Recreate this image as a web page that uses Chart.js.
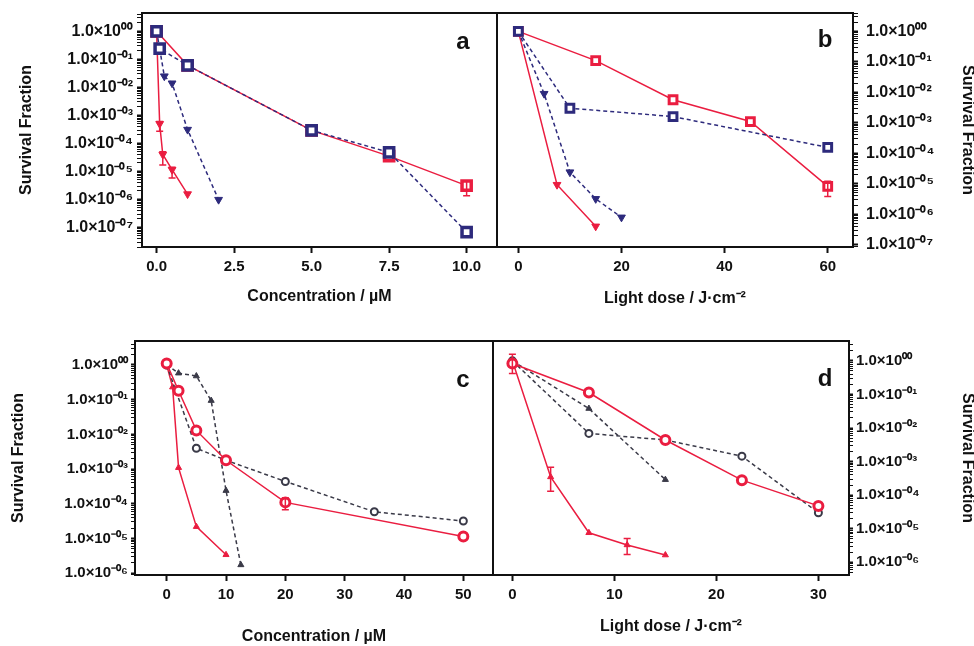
<!DOCTYPE html>
<html>
<head>
<meta charset="utf-8">
<script src="https://cdn.jsdelivr.net/npm/chart.js@4.4.1/dist/chart.umd.min.js"></script>
<style>
  body { margin: 0; background: #fff; }
  canvas { position: absolute; }
</style>
</head>
<body>
<canvas id="pa" width="497" height="320" style="left:0;top:0"></canvas>
<canvas id="pb" width="477" height="320" style="left:497px;top:0"></canvas>
<canvas id="pc" width="493" height="316" style="left:0;top:330px"></canvas>
<canvas id="pd" width="481" height="316" style="left:493px;top:330px"></canvas>
<script>
// ---- panel a : concentration (uM) ----
var aRedSqX = [0, 1, 5, 7.5, 10];
var aRedSqY = [1.0, 0.061, 2.9e-4, 3.5e-5, 3.1e-6];
var aNavySqX = [0, 0.1, 1, 5, 7.5, 10];
var aNavySqY = [1.0, 0.24, 0.061, 2.9e-4, 4.8e-5, 6.8e-8];
var aRedTriX = [0, 0.1, 0.2, 0.5, 1];
var aRedTriY = [1.0, 5e-4, 4e-5, 1.15e-5, 1.55e-6];
var aNavyTriX = [0.1, 0.25, 0.5, 1, 2];
var aNavyTriY = [0.24, 0.025, 0.014, 3.1e-4, 9.8e-7];
var aXTicks = [0, 2.5, 5, 7.5, 10];

// ---- panel b : light dose ----
var bRedSqX = [0, 15, 30, 45, 60];
var bRedSqY = [1.0, 0.11, 5.7e-3, 1.1e-3, 8.2e-6];
var bNavySqX = [0, 10, 30, 60];
var bNavySqY = [1.0, 3.0e-3, 1.6e-3, 1.56e-4];
var bNavyTriX = [0, 5, 10, 15, 20];
var bNavyTriY = [1.0, 9e-3, 2.4e-5, 3.2e-6, 7.9e-7];
var bRedTriX = [0, 7.5, 15];
var bRedTriY = [1.0, 9.3e-6, 4e-7];
var bXTicks = [0, 20, 40, 60];

// ---- panel c : concentration (uM) ----
var cRedCirX = [0, 2, 5, 10, 20, 50];
var cRedCirY = [1.1, 0.18, 0.013, 1.8e-3, 1.1e-4, 1.15e-5];
var cGrayCirX = [0, 5, 10, 20, 35, 50];
var cGrayCirY = [1.0, 4e-3, 1.8e-3, 4.4e-4, 5.9e-5, 3.2e-5];
var cRedTriX = [0, 1, 2, 5, 10];
var cRedTriY = [1.0, 0.23, 1.1e-3, 2.2e-5, 3.4e-6];
var cGrayTriX = [0, 2, 5, 7.5, 10, 12.5];
var cGrayTriY = [1.0, 0.58, 0.48, 0.094, 2.4e-4, 1.74e-6];
var cXTicks = [0, 10, 20, 30, 40, 50];

// ---- panel d : light dose ----
var dRedCirX = [0, 7.5, 15, 22.5, 30];
var dRedCirY = [0.83, 0.114, 4.4e-3, 2.8e-4, 4.8e-5];
var dGrayCirX = [0, 7.5, 15, 22.5, 30];
var dGrayCirY = [1.0, 6.9e-3, 4.4e-3, 1.45e-3, 3e-5];
var dGrayTriX = [0, 7.5, 15];
var dGrayTriY = [1.0, 0.038, 2.9e-4];
var dRedTriX = [0, 3.75, 7.5, 11.25, 15];
var dRedTriY = [1.0, 3.5e-4, 7.6e-6, 3.3e-6, 1.65e-6];
var dXTicks = [0, 10, 20, 30];

// error bars (low / high), null = none
var aRedSqLo = [null, null, null, null, 1.35e-6];
var aRedSqHi = [null, null, null, null, 4.5e-6];
var aRedTriLo = [null, 2.7e-4, 1.7e-5, 5.8e-6, null];
var aRedTriHi = [null, 6e-4, 5e-5, 1.4e-5, null];
var bRedSqLo = [null, null, null, null, 3.8e-6];
var bRedSqHi = [null, null, null, null, 1.2e-5];
var cRedCirLo = [null, null, null, null, 6.7e-5, null];
var cRedCirHi = [null, null, null, null, 1.5e-4, null];
var dRedTriLo = [0.42, 1.3e-4, null, 1.7e-6, null];
var dRedTriHi = [1.58, 6.8e-4, null, 5.1e-6, null];

var RED = '#ea1d40';
var NAVY = '#2d2a7c';
var GRAY = '#3a3a48';
var FONT = 'Liberation Sans, Arial, sans-serif';

function pts(xs, ys) {
  return xs.map(function(x, i) { return {x: x, y: ys[i]}; });
}

var SUP = {'0':'⁰','1':'¹','2':'²','3':'³','4':'⁴','5':'⁵','6':'⁶','7':'⁷','8':'⁸','9':'⁹','-':'⁻'};
function isDecade(v) {
  var e = Math.round(Math.log10(v));
  return Math.abs(v / Math.pow(10, e) - 1) < 1e-6;
}
function sciLabel(v) {
  if (!isDecade(v)) return '';
  var e = Math.round(Math.log10(v));
  var s = (e < 0 ? '-' : '') + String(Math.abs(e)).padStart(2, '0');
  return '1.0×10' + s.split('').map(function(c) { return SUP[c]; }).join('');
}

function line(xs, ys, color, dashed, marker, extra) {
  var d = {
    data: pts(xs, ys),
    borderColor: color,
    borderWidth: 1.5,
    borderDash: dashed ? [4, 3] : [],
    pointBorderColor: color,
    pointBackgroundColor: color,
    pointRadius: 4,
    pointBorderWidth: 1,
    pointStyle: 'triangle',
    pointRotation: 0,
    tension: 0
  };
  if (marker === 'sq') { d.pointStyle = 'rect'; d.pointBackgroundColor = '#fff'; d.pointBorderWidth = 3.5; d.pointRadius = 6.5; }
  if (marker === 'sqs') { d.pointStyle = 'rect'; d.pointBackgroundColor = '#fff'; d.pointBorderWidth = 3; d.pointRadius = 5.5; }
  if (marker === 'down') { d.pointRotation = 180; d.pointRadius = 4.5; }
  if (marker === 'up') { d.pointRadius = 3.5; }
  if (marker === 'cir') { d.pointStyle = 'circle'; d.pointBackgroundColor = '#fff'; d.pointBorderWidth = 3; d.pointRadius = 4.5; }
  if (marker === 'cirs') { d.pointStyle = 'circle'; d.pointBackgroundColor = '#fff'; d.pointBorderWidth = 2; d.pointRadius = 3.5; }
  for (var k in extra) d[k] = extra[k];
  return d;
}

function noPad(ax) {
  ax.paddingLeft = 0; ax.paddingRight = 0; ax.paddingTop = 0; ax.paddingBottom = 0;
}

var decoPlugin = {
  id: 'deco',
  afterDatasetsDraw: function(chart, args, opts) {
    var ctx = chart.ctx, xs = chart.scales.x, ys = chart.scales.y, a = chart.chartArea;
    ctx.save();
    chart.data.datasets.forEach(function(d) {
      if (!d.errLo) return;
      ctx.strokeStyle = d.borderColor;
      ctx.lineWidth = 1.5;
      d.data.forEach(function(p, i) {
        if (d.errLo[i] == null) return;
        var px = xs.getPixelForValue(p.x);
        var y1 = ys.getPixelForValue(d.errLo[i]), y2 = ys.getPixelForValue(d.errHi[i]);
        ctx.beginPath();
        ctx.moveTo(px, y1); ctx.lineTo(px, y2);
        ctx.moveTo(px - 3.5, y1); ctx.lineTo(px + 3.5, y1);
        ctx.moveTo(px - 3.5, y2); ctx.lineTo(px + 3.5, y2);
        ctx.stroke();
      });
    });
    ctx.strokeStyle = '#111';
    ctx.lineWidth = 2;
    ctx.strokeRect(a.left, a.top, a.right - a.left, a.bottom - a.top);
    ctx.fillStyle = '#111';
    ctx.font = 'bold 24px ' + FONT;
    ctx.textAlign = 'center';
    ctx.textBaseline = 'middle';
    ctx.fillText(opts.letter, a.right - opts.dx, a.top + opts.dy);
    ctx.restore();
  }
};

function makePanel(id, p) {
  new Chart(document.getElementById(id), {
    type: 'line',
    data: { datasets: p.datasets },
    plugins: [decoPlugin],
    options: {
      responsive: false,
      animation: false,
      layout: { autoPadding: false, padding: { top: p.padTop, left: 0, right: 0, bottom: 0 } },
      plugins: {
        legend: { display: false },
        tooltip: { enabled: false },
        deco: { letter: p.letter, dx: p.ldx, dy: p.ldy }
      },
      scales: {
        x: {
          type: 'linear',
          min: p.xMin, max: p.xMax,
          afterBuildTicks: function(ax) { ax.ticks = p.xTicks.map(function(v) { return {value: v}; }); },
          afterFit: function(ax) { ax.height = p.xH; noPad(ax); },
          border: { display: false },
          grid: { drawOnChartArea: false, drawTicks: true, tickLength: 6, tickColor: '#111', tickWidth: 2 },
          ticks: {
            autoSkip: false, maxRotation: 0, padding: 5, color: '#111',
            font: { family: FONT, size: 15, weight: 'bold' },
            callback: function(v) { return p.xFix ? Number(v).toFixed(p.xFix) : String(v); }
          },
          title: {
            display: true, text: p.xTitle, color: '#111',
            font: { family: FONT, size: 16, weight: 'bold' },
            padding: { top: 0, bottom: p.xTitlePad }
          }
        },
        y: {
          type: 'logarithmic',
          position: p.yPos,
          min: p.yMin, max: p.yMax,
          afterBuildTicks: function(ax) {
            var lo = Math.floor(Math.log10(p.yMin)), hi = Math.ceil(Math.log10(p.yMax));
            var t = [];
            for (var e = lo; e <= hi; e++) {
              for (var m = 1; m <= 9; m++) {
                var v = m * Math.pow(10, e);
                if (v >= p.yMin && v <= p.yMax) t.push({value: v});
              }
            }
            ax.ticks = t;
          },
          afterFit: function(ax) { ax.width = p.yW; noPad(ax); },
          border: { display: false },
          grid: {
            drawOnChartArea: false, drawTicks: true, tickLength: p.yTick, tickColor: '#111',
            tickWidth: function(c) { return c.tick && isDecade(c.tick.value) ? 2 : 1; }
          },
          ticks: {
            autoSkip: false, padding: p.yPad, color: '#111',
            font: { family: FONT, size: p.yFont, weight: 'bold' },
            callback: function(v) { return sciLabel(v); }
          },
          title: {
            display: true, text: 'Survival Fraction', color: '#111',
            font: { family: FONT, size: 16, weight: 'bold' },
            padding: { top: p.yTitlePad, bottom: 0 }
          }
        }
      }
    }
  });
}

makePanel('pa', {
  letter: 'a', ldx: 34, ldy: 29, padTop: 13, xH: 73, yW: 142, yPos: 'left',
  xMin: -0.47, xMax: 10.98, xTicks: aXTicks, xFix: 1, xTitle: 'Concentration / µM', xTitlePad: 14,
  yMin: 2.0e-8, yMax: 4.5, yTick: 5, yPad: 4, yFont: 16, yTitlePad: 17,
  datasets: [
    line(aNavySqX, aNavySqY, NAVY, true, 'sq'),
    line(aRedSqX, aRedSqY, RED, false, 'sq', {errLo: aRedSqLo, errHi: aRedSqHi}),
    line(aNavyTriX, aNavyTriY, NAVY, true, 'down'),
    line(aRedTriX, aRedTriY, RED, false, 'down', {errLo: aRedTriLo, errHi: aRedTriHi})
  ]
});

makePanel('pb', {
  letter: 'b', ldx: 28, ldy: 27, padTop: 13, xH: 73, yW: 121, yPos: 'right',
  xMin: -4.14, xMax: 64.9, xTicks: bXTicks, xFix: 0, xTitle: 'Light dose / J·cm⁻²', xTitlePad: 12,
  yMin: 8.4e-8, yMax: 4.0, yTick: 5, yPad: 8, yFont: 16, yTitlePad: -3,
  datasets: [
    line(bNavySqX, bNavySqY, NAVY, true, 'sqs'),
    line(bRedSqX, bRedSqY, RED, false, 'sqs', {errLo: bRedSqLo, errHi: bRedSqHi}),
    line(bNavyTriX, bNavyTriY, NAVY, true, 'down'),
    line(bRedTriX, bRedTriY, RED, false, 'down')
  ]
});

makePanel('pc', {
  letter: 'c', ldx: 30, ldy: 39, padTop: 11, xH: 71, yW: 135, yPos: 'left',
  xMin: -5.34, xMax: 55.0, xTicks: cXTicks, xFix: 0, xTitle: 'Concentration / µM', xTitlePad: 0,
  yMin: 8.9e-7, yMax: 4.9, yTick: 4, yPad: 3, yFont: 15, yTitlePad: 9,
  datasets: [
    line(cRedCirX, cRedCirY, RED, false, 'cir', {errLo: cRedCirLo, errHi: cRedCirHi}),
    line(cGrayCirX, cGrayCirY, GRAY, true, 'cirs'),
    line(cRedTriX, cRedTriY, RED, false, 'up'),
    line(cGrayTriX, cGrayTriY, GRAY, true, 'up')
  ]
});

makePanel('pd', {
  letter: 'd', ldx: 24, ldy: 38, padTop: 11, xH: 71, yW: 125, yPos: 'right',
  xMin: -1.9, xMax: 33.0, xTicks: dXTicks, xFix: 0, xTitle: 'Light dose / J·cm⁻²', xTitlePad: 10,
  yMin: 4.2e-7, yMax: 3.9, yTick: 4, yPad: 3, yFont: 15, yTitlePad: -3,
  datasets: [
    line(dRedCirX, dRedCirY, RED, false, 'cir'),
    line(dGrayCirX, dGrayCirY, GRAY, true, 'cirs'),
    line(dGrayTriX, dGrayTriY, GRAY, true, 'up'),
    line(dRedTriX, dRedTriY, RED, false, 'up', {errLo: dRedTriLo, errHi: dRedTriHi})
  ]
});
</script>
</body>
</html>
